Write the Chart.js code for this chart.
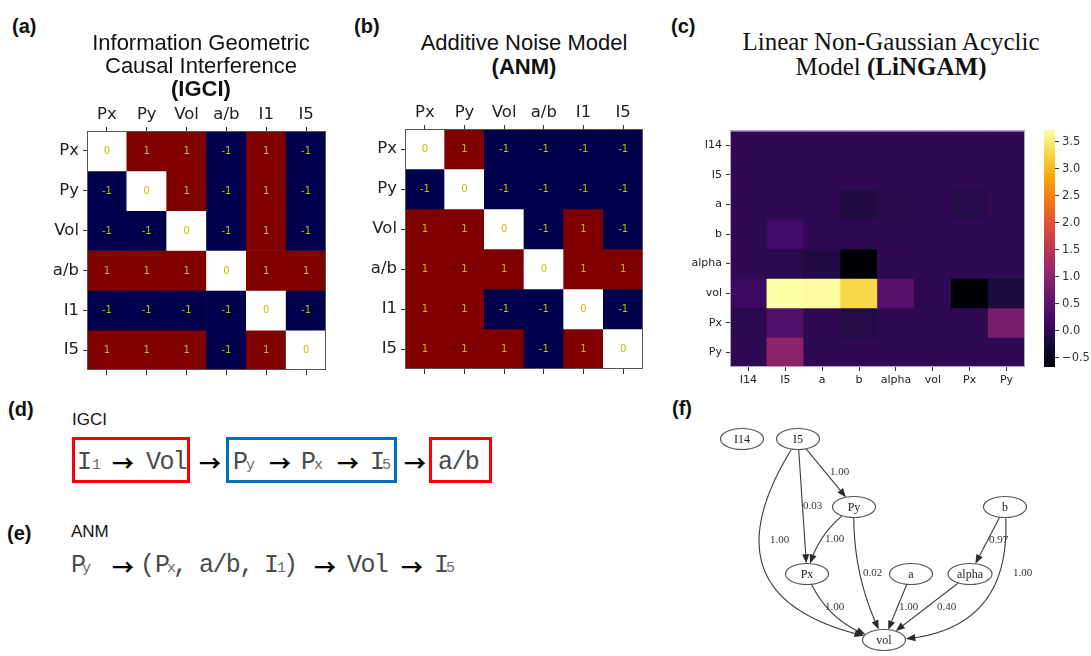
<!DOCTYPE html>
<html lang="en">
<head>
<meta charset="utf-8">
<title>Causal discovery comparison</title>
<script src="https://cdn.jsdelivr.net/npm/chart.js@4.4.1/dist/chart.umd.min.js"></script>
<style>
  html, body { margin: 0; padding: 0; background: #fff; }
  #page { position: relative; width: 1091px; height: 656px; overflow: hidden; font-family: 'Liberation Sans', Arial, sans-serif; color: #111; }
  #page canvas, .t { position: absolute; }
  .t { white-space: nowrap; }
  .panel { font-weight: bold; font-size: 20px; line-height: 24px; }
  .title { font-size: 22px; line-height: 23px; text-align: center; }
  .title.b { line-height: 24px; }
  .title.serif { font-family: 'Liberation Serif', 'Times New Roman', serif; font-size: 25px; line-height: 25px; }
  .head { font-size: 17px; line-height: 20px; }
  .mono { font-family: 'Liberation Mono', 'Courier New', monospace; font-size: 25px; line-height: 30px; letter-spacing: -1.6px; color: #4a4a4a; }
  .sub { font-family: 'Liberation Mono', 'Courier New', monospace; font-size: 15px; line-height: 30px; color: #6a6a6a; }
  .arr { font-family: 'Noto Sans CJK SC', 'DejaVu Sans', sans-serif; font-weight: bold; font-size: 22px; line-height: 30px; color: #000; }
  .box { position: absolute; box-sizing: border-box; border: 3px solid #ff0000; height: 46px; top: 437px; }
</style>
</head>
<body>
<div id="page">
  <canvas id="igci" width="300" height="290" style="left:40px;top:95px"></canvas>
  <canvas id="anm" width="300" height="290" style="left:360px;top:95px"></canvas>
  <canvas id="lingam" width="345" height="275" style="left:690px;top:120px"></canvas>
  <canvas id="cbar" width="51" height="260" style="left:1040px;top:120px"></canvas>
  <canvas id="graph" width="391" height="241" style="left:700px;top:415px"></canvas>

  <div class="t panel" style="left:12px;top:14px">(a)</div>
  <div class="t panel" style="left:354px;top:14px">(b)</div>
  <div class="t panel" style="left:671px;top:14px">(c)</div>
  <div class="t panel" style="left:8px;top:397px">(d)</div>
  <div class="t panel" style="left:7px;top:521px">(e)</div>
  <div class="t panel" style="left:672px;top:396px">(f)</div>

  <div class="t title" style="left:91px;top:31px;width:220px">Information Geometric<br>Causal Interference<br><b>(IGCI)</b></div>
  <div class="t title b" style="left:414px;top:31px;width:220px">Additive Noise Model<br><b>(ANM)</b></div>
  <div class="t title serif" style="left:721px;top:29px;width:340px">Linear Non-Gaussian Acyclic<br>Model <b>(LiNGAM)</b></div>

  <!-- (d) IGCI ordering -->
  <div class="t head" style="left:72px;top:410px">IGCI</div>
  <div class="box" style="left:72px;width:118px"></div>
  <div class="box" style="left:226px;width:171px;border-color:#0070c0"></div>
  <div class="box" style="left:429px;width:63px"></div>
  <span class="t mono" style="left:77px;top:448px">I</span><span class="t sub" style="left:92px;top:451px">1</span>
  <span class="t arr" style="left:112px;top:446px">→</span>
  <span class="t mono" style="left:146px;top:448px">Vol</span>
  <span class="t arr" style="left:199px;top:446px">→</span>
  <span class="t mono" style="left:233px;top:448px">P</span><span class="t sub" style="left:246px;top:451px">y</span>
  <span class="t arr" style="left:269px;top:446px">→</span>
  <span class="t mono" style="left:301px;top:448px">P</span><span class="t sub" style="left:314px;top:451px">x</span>
  <span class="t arr" style="left:337px;top:446px">→</span>
  <span class="t mono" style="left:370px;top:448px">I</span><span class="t sub" style="left:382px;top:451px">5</span>
  <span class="t arr" style="left:404px;top:446px">→</span>
  <span class="t mono" style="left:438px;top:448px">a/b</span>

  <!-- (e) ANM ordering -->
  <div class="t head" style="left:71px;top:522px">ANM</div>
  <span class="t mono" style="left:71px;top:551px">P</span><span class="t sub" style="left:82px;top:554px">y</span>
  <span class="t arr" style="left:112px;top:550px">→</span>
  <span class="t mono" style="left:140px;top:551px">(</span>
  <span class="t mono" style="left:155px;top:551px">P</span><span class="t sub" style="left:167px;top:554px">x</span>
  <span class="t mono" style="left:173px;top:551px">,</span>
  <span class="t mono" style="left:199px;top:551px">a/b,</span>
  <span class="t mono" style="left:264px;top:551px">I</span><span class="t sub" style="left:277px;top:554px">1</span>
  <span class="t mono" style="left:283px;top:551px">)</span>
  <span class="t arr" style="left:314px;top:550px">→</span>
  <span class="t mono" style="left:347px;top:551px">Vol</span>
  <span class="t arr" style="left:401px;top:550px">→</span>
  <span class="t mono" style="left:434px;top:551px">I</span><span class="t sub" style="left:446px;top:554px">5</span>
</div>

<script>
// ---- data ----
const pairLabels = ['Px', 'Py', 'Vol', 'a/b', 'I1', 'I5'];

// rows Px..I5, columns Px..I5
const igciMatrix = [
  [0, 1, 1, -1, 1, -1],
  [-1, 0, 1, -1, 1, -1],
  [-1, -1, 0, -1, 1, -1],
  [1, 1, 1, 0, 1, 1],
  [-1, -1, -1, -1, 0, -1],
  [1, 1, 1, -1, 1, 0]
];

const anmMatrix = [
  [0, 1, -1, -1, -1, -1],
  [-1, 0, -1, -1, -1, -1],
  [1, 1, 0, -1, 1, -1],
  [1, 1, 1, 0, 1, 1],
  [1, 1, -1, -1, 0, -1],
  [1, 1, 1, -1, 1, 0]
];

const lingamLabels = ['I14', 'I5', 'a', 'b', 'alpha', 'vol', 'Px', 'Py'];
const lingamMatrix = [
  [0, 0, 0, 0, 0, 0, 0, 0],
  [0, 0, 0, 0, 0, 0, 0, 0],
  [0, 0, 0, -0.12, -0.06, 0, -0.08, 0],
  [0, 0.2, 0.02, 0.02, -0.02, 0, 0, 0],
  [0, -0.02, -0.12, -0.67, 0, 0, 0, 0],
  [0.15, 3.72, 3.7, 3.28, 0.45, 0, -0.67, -0.2],
  [-0.03, 0.38, 0, -0.1, 0, 0, 0, 0.8],
  [0, 1.0, 0, 0, 0, 0, 0, 0]
];
const colorbarMin = -0.67;
const colorbarMax = 3.72;
const colorbarTicks = [-0.5, 0, 0.5, 1, 1.5, 2, 2.5, 3, 3.5];

// causal graph (graphviz layout, y grows downward)
const nodeNames = ['I14', 'I5', 'Py', 'b', 'Px', 'a', 'alpha', 'vol'];
const nodeX = [42, 98, 154, 305, 107, 211, 270, 184];
const nodeY = [24, 24, 92, 92, 159, 159, 159, 225];
const edgeFrom = ['I5', 'I5', 'I5', 'Py', 'Py', 'Px', 'a', 'alpha', 'b', 'b'];
const edgeTo = ['Py', 'Px', 'vol', 'Px', 'vol', 'vol', 'vol', 'vol', 'alpha', 'vol'];
const edgeWeight = [1.00, 0.03, 1.00, 1.00, 0.02, 1.00, 1.00, 0.40, 0.97, 1.00];
const edgeBend = [0, 0, -110, -11, -12, -18, 0, 0, 0, 65];
const edgeLabelX = [130, 103, 70, 125, 163, 125, 199, 237, 289, 313];
const edgeLabelY = [57, 91, 125, 124, 158, 192, 192, 192, 125, 158];

// ---- colours ----
const INFERNO = ['#000004', '#160b39', '#420a68', '#6a176e', '#932667', '#bc3754',
  '#dd513a', '#f37819', '#fca50a', '#f6d746', '#fcffa4'];

function hexRgb(h) {
  return [parseInt(h.slice(1, 3), 16), parseInt(h.slice(3, 5), 16), parseInt(h.slice(5, 7), 16)];
}

function inferno(v) {
  let t = (v - colorbarMin) / (colorbarMax - colorbarMin);
  t = Math.min(1, Math.max(0, t)) * (INFERNO.length - 1);
  const i = Math.min(INFERNO.length - 2, Math.floor(t));
  const f = t - i;
  const a = hexRgb(INFERNO[i]), b = hexRgb(INFERNO[i + 1]);
  const c = a.map((x, k) => Math.round(x + (b[k] - x) * f));
  return 'rgb(' + c.join(',') + ')';
}

function seismic(v) {
  if (v > 0) return '#800000';
  if (v < 0) return '#00004c';
  return '#ffffff';
}

// ---- plugins ----
const cellText = {
  id: 'cellText',
  afterDatasetsDraw(chart, args, o) {
    if (!o.show) return;
    const ctx = chart.ctx;
    ctx.save();
    ctx.font = '10px "DejaVu Sans"';
    ctx.fillStyle = '#bfbf00';
    ctx.textAlign = 'center';
    ctx.textBaseline = 'middle';
    chart.data.datasets.forEach((ds, i) => {
      chart.getDatasetMeta(i).data.forEach((el, j) => {
        ctx.fillText(String(ds.values[j]), el.x, (el.y + el.base) / 2 + 0.5);
      });
    });
    ctx.restore();
  }
};

const frame = {
  id: 'frame',
  afterDatasetsDraw(chart, args, o) {
    if (!o.color) return;
    const a = chart.chartArea;
    const ctx = chart.ctx;
    ctx.save();
    ctx.strokeStyle = o.color;
    ctx.lineWidth = 1;
    ctx.strokeRect(a.left + 0.5, a.top + 0.5, a.right - a.left - 1, a.bottom - a.top - 1);
    ctx.restore();
  }
};

function matrixChart(id, rows, cols, matrix, colorFn, cfg) {
  const datasets = matrix.map((row, r) => ({
    label: rows[r],
    data: row.map(() => [r, r + 1]),
    values: row,
    backgroundColor: row.map(colorFn),
    borderWidth: 0,
    barPercentage: 1,
    categoryPercentage: 1,
    grouped: false
  }));
  const tickFont = { family: 'DejaVu Sans', size: cfg.fontSize };
  const scales = {
    x: {
      type: 'category',
      position: cfg.labelsTop ? 'top' : 'bottom',
      offset: true,
      grid: { drawOnChartArea: false, offset: false, tickLength: 4, color: '#333' },
      border: { display: false },
      ticks: { font: tickFont, color: '#222', padding: cfg.xPad, maxRotation: 0, autoSkip: false },
      afterFit: (s) => { s.height = cfg.xHeight; }
    },
    y: {
      type: 'linear',
      min: 0,
      max: rows.length,
      reverse: true,
      afterBuildTicks: (s) => { s.ticks = rows.map((_, i) => ({ value: i + 0.5 })); },
      grid: { drawOnChartArea: false, tickLength: 4, color: '#333' },
      border: { display: false },
      ticks: { font: tickFont, color: '#222', padding: cfg.yPad, autoSkip: false,
        callback: (v, i) => rows[i] },
      afterFit: (s) => { s.width = cfg.yWidth; }
    }
  };
  if (cfg.labelsTop) {
    scales.x2 = {
      type: 'category',
      position: 'bottom',
      offset: true,
      grid: { drawOnChartArea: false, offset: false, tickLength: 5, color: '#333' },
      border: { display: false },
      ticks: { display: false },
      afterFit: (s) => { s.height = 10; }
    };
  }
  return new Chart(document.getElementById(id), {
    type: 'bar',
    data: { labels: cols, datasets },
    options: {
      responsive: false,
      animation: false,
      events: [],
      layout: { padding: cfg.padding },
      plugins: {
        legend: { display: false },
        tooltip: { enabled: false },
        cellText: { show: cfg.showValues },
        frame: { color: cfg.frameColor }
      },
      scales
    },
    plugins: [cellText, frame]
  });
}

// (a) IGCI
matrixChart('igci', pairLabels, pairLabels, igciMatrix, seismic, {
  labelsTop: true, fontSize: 16.5, xHeight: 36, yWidth: 47, xPad: 2, yPad: 4,
  padding: { top: 0, right: 14, bottom: 5, left: 0 }, showValues: true, frameColor: '#555'
});

// (b) ANM
matrixChart('anm', pairLabels, pairLabels, anmMatrix, seismic, {
  labelsTop: true, fontSize: 16.5, xHeight: 34, yWidth: 45, xPad: 2, yPad: 4,
  padding: { top: 0, right: 17, bottom: 6, left: 0 }, showValues: true, frameColor: '#555'
});

// (c) LiNGAM adjacency
matrixChart('lingam', lingamLabels, lingamLabels, lingamMatrix, inferno, {
  labelsTop: false, fontSize: 11, xHeight: 28, yWidth: 40, xPad: 3, yPad: 4,
  padding: { top: 7, right: 10, bottom: 0, left: 0 }, showValues: false, frameColor: '#b4a2c8'
});

// colour bar
new Chart(document.getElementById('cbar'), {
  type: 'bar',
  data: {
    labels: ['scale'],
    datasets: [{
      data: [[colorbarMin, colorbarMax]],
      borderWidth: 0,
      barPercentage: 1,
      categoryPercentage: 1,
      backgroundColor(c) {
        const a = c.chart.chartArea;
        if (!a) return INFERNO[5];
        const g = c.chart.ctx.createLinearGradient(0, a.bottom, 0, a.top);
        INFERNO.forEach((col, i) => g.addColorStop(i / (INFERNO.length - 1), col));
        return g;
      }
    }]
  },
  options: {
    responsive: false,
    animation: false,
    events: [],
    layout: { padding: { left: 4, top: 8, bottom: 13, right: 0 } },
    plugins: { legend: { display: false }, tooltip: { enabled: false } },
    scales: {
      x: { display: false },
      y: {
        position: 'right',
        min: colorbarMin,
        max: colorbarMax,
        afterBuildTicks: (s) => { s.ticks = colorbarTicks.map((v) => ({ value: v })); },
        grid: { drawOnChartArea: false, tickLength: 4, color: '#333' },
        border: { display: false },
        ticks: {
          font: { family: 'DejaVu Sans', size: 11.5 },
          color: '#333',
          padding: 3,
          callback: (v) => (v < 0 ? '\u2212' + Math.abs(v).toFixed(1) : v.toFixed(1))
        },
        afterFit: (s) => { s.width = 36; }
      }
    }
  }
});

// (f) causal graph
function cubic(p0, p1, p2, p3, t) {
  const u = 1 - t;
  return {
    x: u * u * u * p0.x + 3 * u * u * t * p1.x + 3 * u * t * t * p2.x + t * t * t * p3.x,
    y: u * u * u * p0.y + 3 * u * u * t * p1.y + 3 * u * t * t * p2.y + t * t * t * p3.y
  };
}

const graphDraw = {
  id: 'graphDraw',
  afterDatasetsDraw(chart) {
    const ctx = chart.ctx;
    const xs = chart.scales.x, ys = chart.scales.y;
    const pts = chart.getDatasetMeta(0).data;
    ctx.save();
    ctx.font = '12px "Liberation Serif"';
    const nodes = {};
    nodeNames.forEach((n, i) => {
      const w = ctx.measureText(n).width;
      nodes[n] = { x: pts[i].x, y: pts[i].y, rx: Math.max(21.5, w / 2 + 9), ry: 10.5 };
    });
    const inside = (p, n) => ((p.x - n.x) / n.rx) ** 2 + ((p.y - n.y) / n.ry) ** 2 < 1;

    ctx.strokeStyle = '#3a3a3a';
    ctx.fillStyle = '#2a2a2a';
    ctx.lineWidth = 1.1;
    edgeFrom.forEach((f, k) => {
      const a = nodes[f], b = nodes[edgeTo[k]];
      const dx = b.x - a.x, dy = b.y - a.y, len = Math.hypot(dx, dy);
      const nx = dy / len, ny = -dx / len;
      const off = edgeBend[k];
      const p1 = { x: a.x + dx / 3 + nx * off, y: a.y + dy / 3 + ny * off };
      const p2 = { x: a.x + 2 * dx / 3 + nx * off, y: a.y + 2 * dy / 3 + ny * off };
      const samples = [];
      for (let i = 0; i <= 300; i++) samples.push(cubic(a, p1, p2, b, i / 300));
      let s = 0;
      while (s < samples.length - 1 && inside(samples[s], a)) s++;
      let e = samples.length - 1;
      while (e > s && inside(samples[e], b)) e--;
      const tip = samples[e];
      let k2 = e;
      while (k2 > s && Math.hypot(tip.x - samples[k2].x, tip.y - samples[k2].y) < 9) k2--;
      ctx.beginPath();
      ctx.moveTo(samples[s].x, samples[s].y);
      for (let i = s + 1; i <= k2; i++) ctx.lineTo(samples[i].x, samples[i].y);
      ctx.stroke();
      const ux = (tip.x - samples[k2].x), uy = (tip.y - samples[k2].y);
      const ul = Math.hypot(ux, uy) || 1;
      const bx = samples[k2].x, by = samples[k2].y;
      const px = -uy / ul * 3.6, py = ux / ul * 3.6;
      ctx.beginPath();
      ctx.moveTo(tip.x, tip.y);
      ctx.lineTo(bx + px, by + py);
      ctx.lineTo(bx - px, by - py);
      ctx.closePath();
      ctx.fill();
    });

    // edge weights
    ctx.font = '11px "Liberation Serif"';
    ctx.fillStyle = '#333';
    ctx.textAlign = 'left';
    ctx.textBaseline = 'middle';
    edgeWeight.forEach((w, k) => {
      ctx.fillText(w.toFixed(2), xs.getPixelForValue(edgeLabelX[k]), ys.getPixelForValue(edgeLabelY[k]));
    });

    // nodes
    ctx.font = '12px "Liberation Serif"';
    ctx.textAlign = 'center';
    ctx.lineWidth = 1.2;
    ctx.strokeStyle = '#555';
    nodeNames.forEach((n) => {
      const nd = nodes[n];
      ctx.beginPath();
      ctx.ellipse(nd.x, nd.y, nd.rx, nd.ry, 0, 0, Math.PI * 2);
      ctx.fillStyle = '#fff';
      ctx.fill();
      ctx.stroke();
      ctx.fillStyle = '#222';
      ctx.fillText(n, nd.x, nd.y + 0.5);
    });
    ctx.restore();
  }
};

new Chart(document.getElementById('graph'), {
  type: 'scatter',
  data: {
    datasets: [{
      data: nodeNames.map((n, i) => ({ x: nodeX[i], y: nodeY[i] })),
      pointRadius: 0
    }]
  },
  options: {
    responsive: false,
    animation: false,
    events: [],
    layout: { padding: 0 },
    plugins: { legend: { display: false }, tooltip: { enabled: false } },
    scales: {
      x: { display: false, min: 0, max: 391 },
      y: { display: false, min: 0, max: 241, reverse: true }
    }
  },
  plugins: [graphDraw]
});
</script>
</body>
</html>
